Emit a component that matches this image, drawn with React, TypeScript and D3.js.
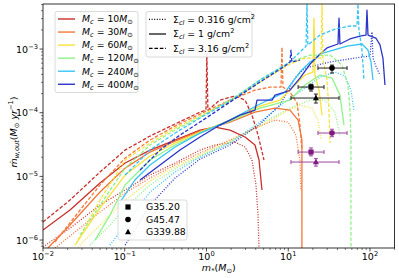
import React from 'react';
import * as d3 from 'd3';

// colours for the six clump masses (red -> blue)
const massLabels = ['10', '30', '60', '120', '240', '400'];
const massColors = ['#c92f2b', '#f4773a', '#f6e23a', '#8ff28b', '#36c4f4', '#2a34c9'];

// surface densities, line styles
const sigmaLabels = ['0.316', '1', '3.16'];
const sigmaDash = ['1,1.6', '', '3.6,1.8'];

// [m*, mdot]; index order = massLabels, each for Sigma 0.316 / 1 / 3.16
const mc10_s0316 = [[0.01, 7.76e-7], [0.0214, 1.54e-6], [0.0498, 3.55e-6], [0.101, 6.1e-6], [0.204, 1.05e-5], [0.412, 1.62e-5], [0.833, 2.59e-5], [1.27, 3.11e-5], [2.23, 3.46e-5], [2.96, 2.89e-5], [3.6, 1.81e-5], [4.03, 7.31e-6], [4.27, 2.47e-6], [4.39, 7.5e-7]];
const mc10_s1 = [[0.01, 1.44e-6], [0.0214, 2.96e-6], [0.0498, 7.86e-6], [0.101, 1.62e-5], [0.204, 2.59e-5], [0.412, 3.72e-5], [0.833, 5.34e-5], [1.27, 5.95e-5], [1.94, 5.34e-5], [2.96, 4.15e-5], [3.92, 3.11e-5], [4.39, 1.81e-5], [4.77, 6.1e-6]];
const mc10_s316 = [[0.01, 1.92e-6], [0.0214, 4.25e-6], [0.0498, 1.17e-5], [0.101, 2.59e-5], [0.204, 4.3e-5], [0.412, 6.64e-5], [0.833, 1.02e-4], [0.986, 1.1e-4], [1.01, 8.65e-4], [1.04, 1.1e-4], [1.46, 1.58e-4], [2.23, 1.83e-4], [2.96, 1.58e-4], [3.6, 9.19e-5], [4.27, 4.46e-5], [5.05, 1.81e-5]];

const mc30_s0316 = [[0.014, 7.5e-7], [0.0284, 1.54e-6], [0.0498, 2.75e-6], [0.101, 5.47e-6], [0.204, 9.42e-6], [0.412, 1.51e-5], [0.833, 2.33e-5], [1.94, 3.72e-5], [3.92, 5.74e-5], [6.89, 7.67e-5], [9.93, 7.14e-5], [12.4, 4.46e-5], [13.9, 1.81e-5], [14.3, 6.1e-6]];
const mc30_s1 = [[0.0115, 7.5e-7], [0.0214, 1.72e-6], [0.0498, 5.68e-6], [0.101, 1.35e-5], [0.204, 2.41e-5], [0.412, 3.59e-5], [0.833, 5.15e-5], [1.94, 7.14e-5], [3.92, 1.02e-4], [6.89, 1.18e-4], [10.5, 1.1e-4], [13.2, 7.67e-5], [14.7, 3.72e-5], [14.7, 7.5e-7]];
const mc30_s316 = [[0.014, 9.3e-7], [0.0284, 2.96e-6], [0.0498, 7.31e-6], [0.101, 1.94e-5], [0.204, 3.72e-5], [0.412, 6.17e-5], [0.833, 9.53e-5], [1.94, 1.58e-4], [3.92, 2.27e-4], [5.98, 2.53e-4], [8.15, 2.53e-4], [8.38, 1.07e-3], [8.62, 2.53e-4], [10.5, 2.11e-4], [12.8, 1.42e-4], [13.9, 6.4e-5], [14.7, 2.59e-5]];

const mc60_s0316 = [[0.0268, 7.76e-7], [0.0498, 1.72e-6], [0.101, 4.25e-6], [0.204, 8.45e-6], [0.412, 1.4e-5], [0.833, 2.16e-5], [1.94, 3.59e-5], [4.51, 6.17e-5], [9.12, 1.02e-4], [13.9, 1.32e-4], [19.5, 1.18e-4], [23.1, 7.67e-5], [25.2, 3.72e-5]];
const mc60_s1 = [[0.0246, 8.35e-7], [0.0498, 3.18e-6], [0.101, 1.05e-5], [0.204, 2.09e-5], [0.412, 3.34e-5], [0.833, 4.97e-5], [1.94, 7.67e-5], [4.51, 1.27e-4], [7.93, 1.58e-4], [12.1, 2.72e-4], [16.0, 3.91e-4], [20.1, 4.35e-4], [20.65, 3.07e-3], [21.2, 3.91e-4], [23.8, 2.27e-4], [25.9, 9.19e-5]];
const mc60_s316 = [[0.0268, 1e-6], [0.0498, 4.25e-6], [0.101, 1.81e-5], [0.204, 3.34e-5], [0.412, 5.74e-5], [0.833, 8.87e-5], [1.94, 1.525e-4], [4.51, 3.03e-4], [10.5, 5.81e-4], [16.0, 7.22e-4], [25.2, 7.22e-4], [25.9, 5.09e-3], [26.6, 6.72e-4], [29.8, 3.26e-4], [31.5, 1.1e-4], [32.4, 3.34e-5]];

const mc120_s0316 = [[0.0376, 8.35e-7], [0.066, 1.72e-6], [0.101, 3.18e-6], [0.204, 7.31e-6], [0.412, 1.3e-5], [0.833, 2.09e-5], [1.94, 3.46e-5], [4.51, 6.64e-5], [10.5, 1.18e-4], [18.5, 1.58e-4], [28.2, 1.58e-4], [37.3, 1.02e-4], [42.9, 4.46e-5]];
const mc120_s1 = [[0.0433, 1e-6], [0.066, 2.47e-6], [0.101, 7.31e-6], [0.204, 1.81e-5], [0.412, 3.11e-5], [0.833, 4.79e-5], [1.94, 7.4e-5], [4.51, 1.18e-4], [10.5, 1.58e-4], [16.0, 2.72e-4], [24.5, 3.91e-4], [34.3, 3.5e-4], [42.9, 1.89e-4], [48.1, 6.4e-5]];
const mc120_s316 = [[0.0284, 1.2e-6], [0.0498, 3.55e-6], [0.101, 1.35e-5], [0.204, 3.11e-5], [0.412, 5.34e-5], [0.833, 8.55e-5], [1.94, 1.58e-4], [4.51, 3.26e-4], [10.5, 6.25e-4], [18.5, 8.05e-4], [32.4, 8.05e-4], [45.4, 5.61e-4], [53.8, 2.72e-4], [56.9, 1.1e-4], [58.5, 3.72e-5], [58.5, 7.5e-7]];

const mc240_s0316 = [[0.066, 8.35e-7], [0.101, 1.72e-6], [0.204, 5.68e-6], [0.412, 1.17e-5], [0.833, 2.01e-5], [1.94, 3.34e-5], [4.51, 7.14e-5], [9.12, 1.47e-4], [16.0, 2.44e-4], [24.5, 3.63e-4], [37.3, 4.35e-4], [49.4, 3.77e-4], [58.5, 2.27e-4], [63.7, 1.1e-4]];
const mc240_s1 = [[0.0827, 3.55e-6], [0.133, 8.76e-6], [0.204, 1.51e-5], [0.412, 2.89e-5], [0.833, 4.79e-5], [1.94, 7.67e-5], [4.51, 1.37e-4], [9.12, 2.11e-4], [13.9, 4.35e-4], [18.5, 6.25e-4], [26.6, 8.65e-4], [52.3, 1.11e-3], [79.8, 1.2e-3], [94.5, 9.64e-4], [102.8, 6.25e-4], [108.8, 3.26e-4]];
const mc240_s316 = [[0.101, 1.05e-5], [0.204, 2.59e-5], [0.412, 4.79e-5], [0.833, 8.25e-5], [1.94, 1.525e-4], [4.51, 3.26e-4], [10.5, 6.25e-4], [13.9, 8.97e-4], [16.5, 1.11e-3], [16.95, 5.09e-3], [17.4, 1.16e-3], [24.5, 1.66e-3], [37.3, 2.06e-3], [56.9, 2.3e-3], [69.3, 2.3e-3], [71.3, 5.09e-3], [73.3, 1.99e-3], [79.8, 9.64e-4], [84.4, 3.26e-4]];

const mc400_s0316 = [[0.101, 8.35e-7], [0.204, 3.55e-6], [0.412, 9.42e-6], [0.833, 1.87e-5], [1.94, 3.11e-5], [4.51, 6.64e-5], [7.93, 1.32e-4], [12.1, 3.5e-4], [16.0, 5.03e-4], [32.4, 6.25e-4], [65.5, 7.22e-4], [100, 7.76e-4], [105.8, 1.85e-3], [108.8, 7.22e-4], [118, 5.41e-4], [132.5, 3.91e-4]];
const mc400_s1 = [[0.154, 8.76e-6], [0.27, 1.51e-5], [0.474, 2.59e-5], [0.833, 4.15e-5], [1.46, 6.4e-5], [2.57, 9.19e-5], [3.92, 1.1e-4], [4.15, 1.58e-4], [6.33, 1.58e-4], [6.89, 1.89e-4], [9.12, 2.11e-4], [10.5, 2.27e-4], [13.9, 3.5e-4], [18.5, 5.81e-4], [24.5, 8.34e-4], [29.8, 1.04e-3], [40.6, 1.2e-3], [41.8, 3.07e-3], [42.9, 1.2e-3], [56.9, 1.44e-3], [75.4, 1.6e-3], [89.3, 1.66e-3], [91.9, 4.1e-3], [94.5, 1.66e-3], [118, 1.49e-3], [132.5, 1.16e-3], [144, 7.22e-4], [152.5, 2.72e-4]];
const mc400_s316 = [[0.154, 1.26e-5], [0.27, 2.59e-5], [0.474, 4.46e-5], [0.833, 7.14e-5], [1.94, 1.47e-4], [4.51, 3.03e-4], [9.12, 5.41e-4], [10.5, 6.25e-4], [10.8, 9.64e-4], [11.1, 6.25e-4], [13.9, 6.72e-4]];

const tracks = [
  [mc10_s0316, mc10_s1, mc10_s316],
  [mc30_s0316, mc30_s1, mc30_s316],
  [mc60_s0316, mc60_s1, mc60_s316],
  [mc120_s0316, mc120_s1, mc120_s316],
  [mc240_s0316, mc240_s1, mc240_s316],
  [mc400_s0316, mc400_s1, mc400_s316],
];

// observed sources: G35.20 (square), G45.47 (circle), G339.88 (triangle)
const obsNames = ['G35.20', 'G45.47', 'G339.88'];
const obsMass = [19.0, 34.3, 21.8];
const obsMassLo = [13.2, 23.1, 10.8];
const obsMassHi = [27.4, 52.4, 41.8];
const obsRateBlack = [2.53e-4, 5.03e-4, 1.7e-4];
const obsRateBlackLo = [2.19e-4, 4.2e-4, 1.42e-4];
const obsRateBlackHi = [2.8e-4, 5.6e-4, 1.96e-4];
const obsRatePurple = [2.41e-5, 4.8e-5, 1.68e-5];
const obsRatePurpleLo = [2.1e-5, 4.2e-5, 1.45e-5];
const obsRatePurpleHi = [2.8e-5, 5.5e-5, 1.9e-5];

const xMajor = [1e-2, 1e-1, 1, 10, 100];
const xExp = ['−2', '−1', '0', '1', '2'];
const yMajor = [1e-6, 1e-5, 1e-4, 1e-3];
const yExp = ['−6', '−5', '−4', '−3'];

const W = 399;
const H = 278;
const left = 43, right = 394.6, top = 4, bottom = 248;
const FONT = 'DejaVu Sans, sans-serif';

const x = d3.scaleLog().domain([0.01, 200]).range([left, right]);
const y = d3.scaleLog().domain([7.5e-7, 5.1e-3]).range([bottom, top]);

const line = d3.line<number[]>().x(d => x(d[0])).y(d => y(d[1]));

const minorTicks = (lo: number, hi: number) => {
  const out: number[] = [];
  for (let e = -8; e <= 3; e++) {
    for (let k = 2; k <= 9; k++) {
      const v = k * Math.pow(10, e);
      if (v >= lo && v <= hi) out.push(v);
    }
  }
  return out;
};

const Marker = ({ shape, cx, cy, fill }: { shape: number; cx: number; cy: number; fill: string }) => {
  if (shape === 0) return <rect x={cx - 2.6} y={cy - 2.6} width={5.2} height={5.2} fill={fill} />;
  if (shape === 1) return <circle cx={cx} cy={cy} r={2.8} fill={fill} />;
  return <path d={`M${cx},${cy - 3.2}L${cx + 3},${cy + 2.3}L${cx - 3},${cy + 2.3}Z`} fill={fill} />;
};

const ErrPoint = ({ i, rate, lo, hi, color, barColor }: any) => {
  const cx = x(obsMass[i]);
  const cy = y(rate);
  const x0 = x(obsMassLo[i]), x1 = x(obsMassHi[i]);
  const y0 = y(lo), y1 = y(hi);
  return (
    <g stroke={barColor} strokeWidth={1}>
      <line x1={x0} x2={x1} y1={cy} y2={cy} />
      <line x1={x0} x2={x0} y1={cy - 2} y2={cy + 2} />
      <line x1={x1} x2={x1} y1={cy - 2} y2={cy + 2} />
      <line x1={cx} x2={cx} y1={y0} y2={y1} />
      <line x1={cx - 2} x2={cx + 2} y1={y0} y2={y0} />
      <line x1={cx - 2} x2={cx + 2} y1={y1} y2={y1} />
      <g stroke="none"><Marker shape={i} cx={cx} cy={cy} fill={color} /></g>
    </g>
  );
};

export default function App() {
  const rowsA = massLabels.map((_, i) => 19 + i * 13.05);
  const rowsB = [19.3, 34, 48.3];
  const rowsC = [207, 219.5, 232];
  return (
    <svg width={W} height={H} style={{ position: 'absolute', left: 0, top: 0, background: '#fff' }} fontFamily={FONT}>
      <defs>
        <clipPath id="plot"><rect x={left} y={top} width={right - left} height={bottom - top} /></clipPath>
      </defs>
      <rect x={0} y={0} width={W} height={H} fill="#fff" />

      <g clipPath="url(#plot)" fill="none">
        {[0, 1, 2].map(s =>
          tracks.map((t, c) => (
            <path key={`${s}-${c}`} d={line(t[s] as number[][]) || ''} stroke={massColors[c]}
              strokeWidth={1.3} strokeDasharray={sigmaDash[s] || undefined} strokeLinejoin="round" />
          ))
        )}
      </g>

      {obsNames.map((_, i) => (
        <g key={'o' + i}>
          <ErrPoint i={i} rate={obsRateBlack[i]} lo={obsRateBlackLo[i]} hi={obsRateBlackHi[i]} color="#000" barColor="#222" />
          <ErrPoint i={i} rate={obsRatePurple[i]} lo={obsRatePurpleLo[i]} hi={obsRatePurpleHi[i]} color="#7e1a80" barColor="#9a45a0" />
        </g>
      ))}

      <rect x={left} y={top} width={right - left} height={bottom - top} fill="none" stroke="#000" strokeWidth={0.8} />

      {/* ticks */}
      <g stroke="#000" strokeWidth={0.7}>
        {xMajor.map(v => <line key={v} x1={x(v)} x2={x(v)} y1={bottom} y2={bottom + 3.5} />)}
        {minorTicks(0.01, 200).map(v => <line key={v} x1={x(v)} x2={x(v)} y1={bottom} y2={bottom + 2} strokeWidth={0.5} />)}
        {yMajor.map(v => <line key={v} x1={left - 3.5} x2={left} y1={y(v)} y2={y(v)} />)}
        {minorTicks(7.5e-7, 5.1e-3).map(v => <line key={v} x1={left - 2} x2={left} y1={y(v)} y2={y(v)} strokeWidth={0.5} />)}
      </g>
      {xMajor.map((v, i) => (
        <text key={v} x={x(v)} y={260} fontSize={9.5} textAnchor="middle">
          10<tspan fontSize={6.7} dy={-4}>{xExp[i]}</tspan>
        </text>
      ))}
      {yMajor.map((v, i) => (
        <text key={v} x={left - 5} y={y(v) + 3.5} fontSize={9.5} textAnchor="end">
          10<tspan fontSize={6.7} dy={-4}>{yExp[i]}</tspan>
        </text>
      ))}

      {/* axis labels */}
      <text x={(left + right) / 2} y={271} fontSize={9.5} textAnchor="middle">
        <tspan fontStyle="italic">m</tspan><tspan fontSize={6.7} dy={2}>*</tspan>
        <tspan dy={-2}>(</tspan><tspan fontStyle="italic">M</tspan><tspan fontSize={6.7} dy={2}>⊙</tspan><tspan dy={-2}>)</tspan>
      </text>
      <text transform={`translate(17,${(top + bottom) / 2 + 6}) rotate(-90)`} fontSize={9.5} textAnchor="middle">
        <tspan fontStyle="italic">ṁ</tspan><tspan fontStyle="italic" fontSize={6.7} dy={2}>w,out</tspan>
        <tspan dy={-2}>(</tspan><tspan fontStyle="italic">M</tspan><tspan fontSize={6.7} dy={2}>⊙</tspan>
        <tspan dy={-2}> </tspan><tspan fontStyle="italic">yr</tspan><tspan fontSize={6.7} dy={-4}>−1</tspan><tspan dy={4}>)</tspan>
      </text>

      {/* legend: clump mass */}
      <rect x={55} y={11.5} width={83} height={81} rx={2} fill="#fff" fillOpacity={0.85} stroke="#d0d0d0" strokeWidth={0.8} />
      {massLabels.map((m, i) => (
        <g key={m}>
          <line x1={58} x2={75} y1={rowsA[i]} y2={rowsA[i]} stroke={massColors[i]} strokeWidth={1.4} />
          <text x={82} y={rowsA[i] + 3.3} fontSize={9.3}>
            <tspan fontStyle="italic">M</tspan><tspan fontStyle="italic" fontSize={6.6} dy={2}>c</tspan>
            <tspan dy={-2}> = {m}</tspan><tspan fontStyle="italic">M</tspan><tspan fontSize={6.6} dy={2}>⊙</tspan>
          </text>
        </g>
      ))}

      {/* legend: surface density */}
      <rect x={146} y={11.5} width={106} height={45.5} rx={2} fill="#fff" fillOpacity={0.85} stroke="#d0d0d0" strokeWidth={0.8} />
      {sigmaLabels.map((s, i) => (
        <g key={s}>
          <line x1={149} x2={166} y1={rowsB[i]} y2={rowsB[i]} stroke="#000" strokeWidth={1.2} strokeDasharray={sigmaDash[i] || undefined} />
          <text x={173} y={rowsB[i] + 3.3} fontSize={9.3}>
            <tspan>Σ</tspan><tspan fontStyle="italic" fontSize={6.6} dy={2}>cl</tspan>
            <tspan dy={-2}> = {s} g/cm</tspan><tspan fontSize={6.6} dy={-4}>2</tspan>
          </text>
        </g>
      ))}

      {/* legend: sources */}
      <rect x={118} y={200} width={69} height={40} rx={2} fill="#fff" fillOpacity={0.85} stroke="#d0d0d0" strokeWidth={0.8} />
      {obsNames.map((n, i) => (
        <g key={n}>
          <Marker shape={i} cx={128} cy={rowsC[i]} fill="#000" />
          <text x={146} y={rowsC[i] + 3.4} fontSize={9.3}>{n}</text>
        </g>
      ))}
    </svg>
  );
}
